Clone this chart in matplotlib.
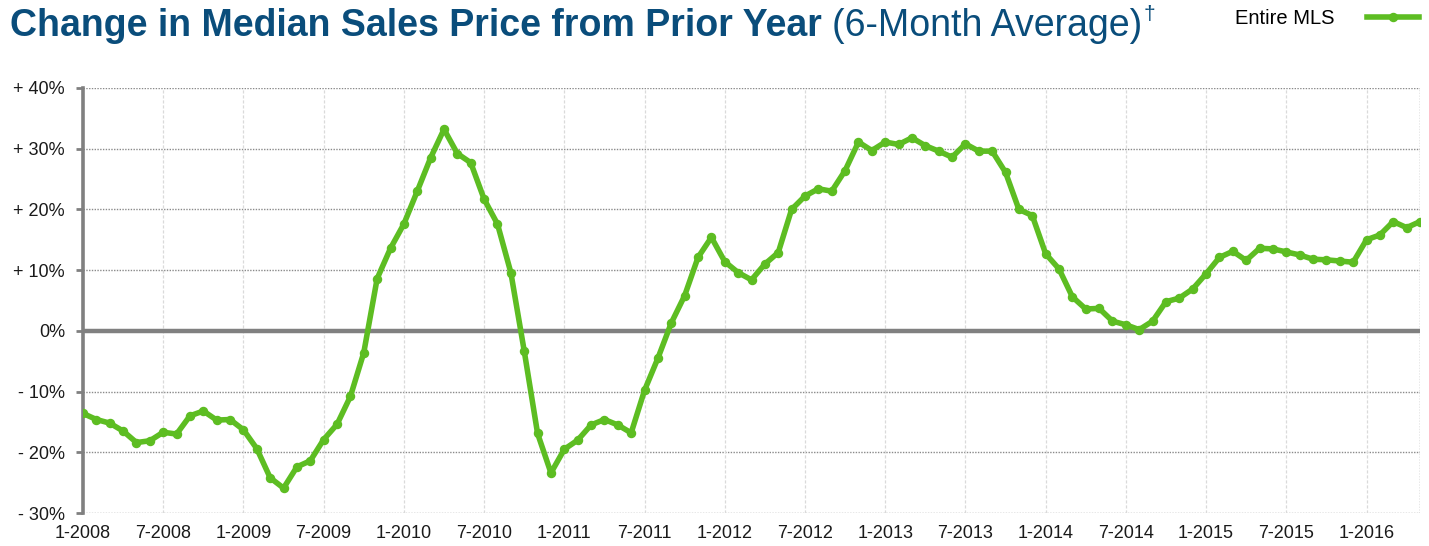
import numpy as np
import matplotlib
matplotlib.use("Agg")
import matplotlib.pyplot as plt

plt.rcParams['font.family'] = ['Liberation Sans', 'DejaVu Sans']

# monthly values, 1-2008 .. 5-2016 (6-month average change, %)
months = list(range(101))
change = [
    -13.6, -14.6, -15.2, -16.5, -18.4, -18.1, -16.7, -17.0, -14.0, -13.2,
    -14.7, -14.6, -16.3, -19.4, -24.2, -25.9, -22.4, -21.4, -17.9, -15.4,
    -10.8, -3.6, 8.6, 13.6, 17.6, 23.0, 28.5, 33.2, 29.2, 27.7,
    21.7, 17.6, 9.6, -3.3, -16.9, -23.4, -19.5, -18.0, -15.5, -14.6,
    -15.5, -16.8, -9.8, -4.5, 1.3, 5.8, 12.1, 15.4, 11.4, 9.6,
    8.4, 11.0, 12.9, 20.0, 22.2, 23.4, 23.0, 26.4, 31.1, 29.7,
    31.1, 30.7, 31.8, 30.5, 29.6, 28.6, 30.8, 29.6, 29.6, 26.1,
    20.0, 19.0, 12.7, 10.2, 5.6, 3.6, 3.7, 1.6, 1.0, 0.2,
    1.6, 4.8, 5.4, 6.9, 9.4, 12.1, 13.1, 11.6, 13.6, 13.5,
    13.0, 12.5, 11.8, 11.7, 11.5, 11.3, 15.0, 15.8, 18.0, 17.0,
    18.0,
]
x_ticks = list(range(0, 101, 6))
x_labels = ['1-2008', '7-2008', '1-2009', '7-2009', '1-2010', '7-2010',
            '1-2011', '7-2011', '1-2012', '7-2012', '1-2013', '7-2013',
            '1-2014', '7-2014', '1-2015', '7-2015', '1-2016']
y_ticks = [-30, -20, -10, 0, 10, 20, 30, 40]
y_labels = ['- 30%', '- 20%', '- 10%', '0%', '+ 10%', '+ 20%', '+ 30%', '+ 40%']

green = '#5dbd22'
blue = '#0a4d7b'

fig = plt.figure(figsize=(14.29, 5.46), dpi=100)
ax = fig.add_axes([83 / 1429, 1 - 513 / 546, (1420 - 83) / 1429, (513 - 88) / 546])

ax.set_xlim(0, 100)
ax.set_ylim(-30, 40)

# grid
for y in y_ticks:
    if y != 0:
        ax.axhline(y, color='#8a8a8a', lw=1.0, ls=(0, (1, 1)), zorder=1)
for x in x_ticks[1:]:
    ax.axvline(x, color='#dadada', lw=0.9, ls=(0, (2.5, 1.5)), zorder=1)
ax.axvline(100, color='#8a8a8a', lw=1.0, ls=(0, (1, 1)), zorder=1)
ax.axhline(0, color='#808080', lw=3.2, zorder=2)

ax.plot(months, change, color=green, lw=4.0, marker='o', ms=5.8,
        solid_joinstyle='round', zorder=3, label='Entire MLS')

for s in ['top', 'right', 'bottom']:
    ax.spines[s].set_visible(False)
ax.spines['left'].set_color('#808080')
ax.spines['left'].set_linewidth(2.6)

ax.set_yticks(y_ticks)
ax.set_yticklabels(y_labels, fontsize=13, color='#1a1a1a')
ax.tick_params(axis='y', length=5, width=2, color='#808080', pad=8)
ax.set_xticks(x_ticks)
ax.set_xticklabels(x_labels, fontsize=13, color='#1a1a1a')
ax.tick_params(axis='x', length=0, pad=9)

# title in pieces
t1 = fig.text(10 / 1429, 1 - 36 / 546, 'Change in Median Sales Price from Prior Year',
              fontsize=27, fontweight='bold', color=blue, va='baseline')
fig.canvas.draw()
bb = t1.get_window_extent()
t2 = fig.text((bb.x1 + 10) / 1429, 1 - 36 / 546, '(6-Month Average)',
              fontsize=27, color=blue, va='baseline')
fig.canvas.draw()
bb2 = t2.get_window_extent()
fig.text((bb2.x1 + 1) / 1429, 1 - 20 / 546, '\u2020', fontsize=15, color=blue,
         va='baseline')

ax.legend(loc='center right', bbox_to_anchor=(1419 / 1429, 1 - 19 / 546),
          bbox_transform=fig.transFigure, frameon=False, markerfirst=False,
          fontsize=14.5, handlelength=2.6, handletextpad=1.6, borderpad=0,
          borderaxespad=0, numpoints=1)

fig.savefig('out.png', dpi=100)
